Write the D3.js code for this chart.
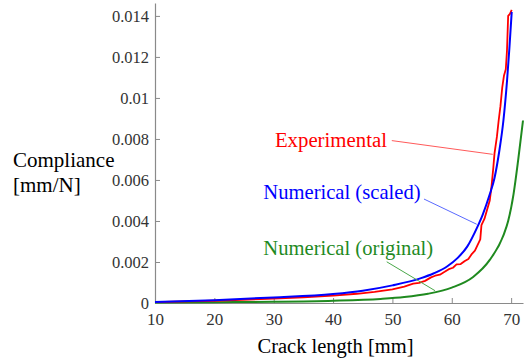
<!DOCTYPE html>
<html>
<head>
<meta charset="utf-8">
<script src="https://cdn.jsdelivr.net/npm/d3@7"></script>
<style>
  html, body { margin: 0; padding: 0; background: #fff; }
  svg { display: block; }
</style>
</head>
<body>
<svg id="chart" width="524" height="363"></svg>
<script>
// ---- data ----
const xTickValues = [10, 20, 30, 40, 50, 60, 70];
const xTickLabels = ["10", "20", "30", "40", "50", "60", "70"];
const yTickValues = [0, 0.002, 0.004, 0.006, 0.008, 0.01, 0.012, 0.014];
const yTickLabels = ["0", "0.002", "0.004", "0.006", "0.008", "0.01", "0.012", "0.014"];

const greenX = [10, 20, 30, 40, 48, 52, 56, 60, 63.6, 66.4, 68.7, 69.5, 70.4, 71.2, 72];
const greenY = [0.00002, 0.00004, 0.00006, 0.00011, 0.0002, 0.00029, 0.00045, 0.00075, 0.00127, 0.0021, 0.0033, 0.0040, 0.0053, 0.0070, 0.0089];

const blueX = [10, 20, 30, 40, 45, 50, 54.7, 57, 59.2, 61, 62.6, 64.3, 65.2, 66.4, 67.2, 68, 68.7, 69.3, 69.7, 70.1];
const blueY = [0.00005, 0.00014, 0.00027, 0.00044, 0.0006, 0.00086, 0.0012, 0.00145, 0.00178, 0.0022, 0.00275, 0.0037, 0.0043, 0.0053, 0.0061, 0.0074, 0.0089, 0.0108, 0.0124, 0.0142];

const redX = [10, 20, 30, 35, 40, 44, 47, 50, 52, 53.5, 54.5, 55.5, 56.5, 57.2, 58, 58.8, 59.5, 60.2, 60.8, 61.5, 62.2, 62.8, 63.4, 63.9, 64.3, 64.8, 65.0, 65.5, 65.9, 66.4, 66.7, 67.0, 67.2, 67.6, 67.9, 68.2, 68.5, 68.8, 69.1, 69.3, 69.5, 69.8, 70.1];
const redY = [0.00004, 0.00011, 0.00021, 0.00028, 0.00036, 0.00045, 0.00054, 0.00066, 0.0008, 0.00094, 0.00098, 0.00108, 0.00125, 0.00133, 0.00138, 0.00152, 0.00165, 0.00172, 0.00188, 0.0019, 0.00205, 0.00215, 0.0024, 0.00255, 0.0028, 0.0031, 0.0038, 0.0041, 0.0045, 0.005, 0.0057, 0.0066, 0.0073, 0.0081, 0.0089, 0.0096, 0.0105, 0.0111, 0.0114, 0.0123, 0.014, 0.0141, 0.0143];

const labelNames = ["Experimental", "Numerical (scaled)", "Numerical (original)"];
const labelX = [30.2, 28.25, 28.25];
const labelY = [0.00762, 0.00506, 0.00234];
const leaderX1 = [49.9, 55.32, 49.04];
const leaderY1 = [0.00792, 0.00507, 0.00201];
const leaderX2 = [66.9, 64.2, 57.18];
const leaderY2 = [0.00725, 0.00384, 0.0006];

// ---- styles ----
const FONT = '"Liberation Serif", "DejaVu Serif", "Times New Roman", Times, serif';
const colRed = "#ff0000", colBlue = "#0000ff", colGreen = "#1f8a1f";
const labelColors = [colRed, colBlue, colGreen];
const leaderColors = ["#ff5a5a", "#5a6aff", "#4aa84a"];

const svg = d3.select("#chart");
const x = d3.scaleLinear().domain([10, 72]).range([155, 523]);
const y = d3.scaleLinear().domain([0, 0.01463]).range([303, 3]);

// axes
const xAxis = d3.axisBottom(x).tickValues(xTickValues)
  .tickFormat((d, i) => xTickLabels[i]).tickSizeInner(-5).tickSizeOuter(0).tickPadding(10);
const yAxis = d3.axisLeft(y).tickValues(yTickValues)
  .tickFormat((d, i) => yTickLabels[i]).tickSizeInner(-5).tickSizeOuter(0).tickPadding(6);

const gx = svg.append("g").attr("transform", "translate(0,303)").call(xAxis);
const gy = svg.append("g").attr("transform", "translate(155,0)").call(yAxis);
[gx, gy].forEach(g => {
  g.attr("font-family", null);
  g.select(".domain").attr("stroke", "#8a8a8a").attr("stroke-width", 1.2);
  g.selectAll(".tick line").attr("stroke", "#8a8a8a").attr("stroke-width", 1);
  g.selectAll(".tick text").attr("fill", "#333").style("font-family", FONT);
});
gx.selectAll(".tick text").style("font-size", "17px");
gy.selectAll(".tick text").style("font-size", "16.5px");

// curves
function series(xs, ys) { return xs.map((v, i) => [v, ys[i]]); }
const smooth = d3.line().x(d => x(d[0])).y(d => y(d[1])).curve(d3.curveMonotoneX);
const straight = d3.line().x(d => x(d[0])).y(d => y(d[1]));

svg.append("path").datum(series(greenX, greenY)).attr("d", smooth)
  .attr("fill", "none").attr("stroke", colGreen).attr("stroke-width", 2);
svg.append("path").datum(series(redX, redY)).attr("d", straight)
  .attr("fill", "none").attr("stroke", colRed).attr("stroke-width", 1.8).attr("stroke-linejoin", "round");
svg.append("path").datum(series(blueX, blueY)).attr("d", smooth)
  .attr("fill", "none").attr("stroke", colBlue).attr("stroke-width", 2);

// annotations
labelNames.forEach((name, i) => {
  svg.append("line")
    .attr("x1", x(leaderX1[i])).attr("y1", y(leaderY1[i]))
    .attr("x2", x(leaderX2[i])).attr("y2", y(leaderY2[i]))
    .attr("stroke", leaderColors[i]).attr("stroke-width", 1);
  svg.append("text").attr("x", x(labelX[i])).attr("y", y(labelY[i]))
    .attr("fill", labelColors[i]).style("font-family", FONT)
    .style("font-size", (i === 0 ? 20.8 : 20.6) + "px").text(name);
});

// axis titles
function title(tx, ty, size, str, anchor) {
  svg.append("text").attr("x", tx).attr("y", ty).attr("text-anchor", anchor || "start")
    .attr("fill", "#000").style("font-family", FONT).style("font-size", size + "px").text(str);
}
title(13, 167, 21, "Compliance");
title(13, 192, 21, "[mm/N]");
title(335.5, 353, 20.5, "Crack length [mm]", "middle");
</script>
</body>
</html>
